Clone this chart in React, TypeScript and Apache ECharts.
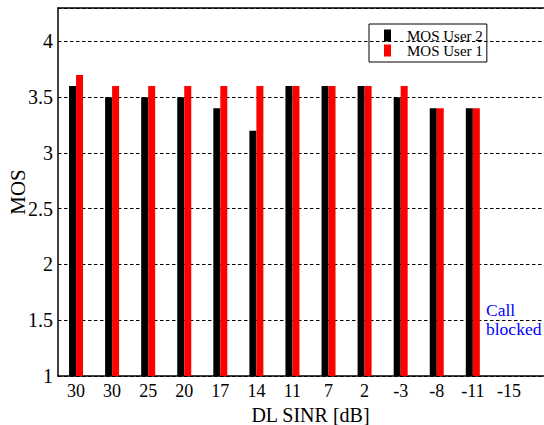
import React, { useEffect, useRef } from "react";
import * as echarts from "echarts";

// DL SINR points (dB) at which both users were measured
const sinrLabels = ["30", "30", "25", "20", "17", "14", "11", "7", "2", "-3", "-8", "-11", "-15"];
// Mean opinion score per SINR point; -15 dB has no score (call blocked)
const mosUser2 = [3.6, 3.5, 3.5, 3.5, 3.4, 3.2, 3.6, 3.6, 3.6, 3.5, 3.4, 3.4, null];
const mosUser1 = [3.7, 3.6, 3.6, 3.6, 3.6, 3.6, 3.6, 3.6, 3.6, 3.6, 3.4, 3.4, null];
const yTicks = [1, 1.5, 2, 2.5, 3, 3.5, 4];

const SERIF = "Liberation Serif";

export default function App() {
  const ref = useRef<HTMLDivElement>(null);

  useEffect(() => {
    if (!ref.current) return;
    const chart = echarts.init(ref.current, undefined, { renderer: "svg" });
    // one spare slot on the right so the plot frame runs past the page edge
    const cats = [...sinrLabels, ""];

    chart.setOption({
      animation: false,
      backgroundColor: "#fff",
      textStyle: { fontFamily: SERIF },
      grid: { left: 58, top: 8, width: 505, height: 368, containLabel: false, outerBoundsMode: "none" },
      legend: {
        orient: "vertical",
        left: 369,
        top: 24,
        padding: [4, 4, 4, 15],
        itemGap: 0,
        itemWidth: 7,
        itemHeight: 12,
        icon: "rect",
        borderColor: "#000",
        borderWidth: 1,
        borderRadius: 0,
        textStyle: { fontFamily: SERIF, fontSize: 15, color: "#000", padding: [0, 0, 0, 11] },
        data: ["MOS User 2", "MOS User 1"],
      },
      xAxis: [
        {
          type: "category",
          position: "bottom",
          data: cats,
          boundaryGap: true,
          name: "DL SINR [dB]",
          nameLocation: "middle",
          nameGap: 26,
          nameTextStyle: { fontFamily: SERIF, fontSize: 20, color: "#000" },
          axisLine: { lineStyle: { color: "#000", width: 1.5 } },
          axisTick: { inside: true, alignWithLabel: true, length: 9, lineStyle: { color: "#555" } },
          axisLabel: { fontFamily: SERIF, fontSize: 18, color: "#000", margin: 6, interval: 0 },
          splitLine: { show: false },
        },
        {
          type: "category",
          position: "top",
          data: cats,
          boundaryGap: true,
          axisLine: { lineStyle: { color: "#000", width: 1.5 } },
          axisTick: { inside: true, alignWithLabel: true, length: 8, lineStyle: { color: "#555" } },
          axisLabel: { show: false },
          splitLine: { show: false },
        },
      ],
      yAxis: [
        {
          type: "value",
          position: "left",
          min: 1,
          max: 4.3,
          interval: 0.5,
          name: "MOS",
          nameLocation: "middle",
          nameGap: 30,
          nameMoveOverlap: false,
          nameTextStyle: { fontFamily: SERIF, fontSize: 21, color: "#000" },
          axisLine: { show: true, lineStyle: { color: "#000", width: 1.5 } },
          axisTick: { inside: true, length: 8, lineStyle: { color: "#000" } },
          axisLabel: {
            fontFamily: SERIF,
            fontSize: 20,
            color: "#000",
            margin: 5,
            showMaxLabel: false,
            formatter: (v: number) => (yTicks.some((t) => Math.abs(t - v) < 1e-6) ? String(v) : ""),
          },
          splitLine: { show: true, lineStyle: { color: "#000", width: 1, type: [3.5, 2.5] } },
        },
        {
          // quarter-step minor ticks on the left frame
          type: "value",
          position: "left",
          offset: 0,
          min: 1,
          max: 4.3,
          interval: 0.25,
          axisLine: { show: false },
          axisTick: { inside: true, length: 5, lineStyle: { color: "#000" } },
          axisLabel: { show: false },
          splitLine: { show: false },
        },
      ],
      series: [
        {
          name: "MOS User 2",
          type: "bar",
          xAxisIndex: 0,
          yAxisIndex: 0,
          data: mosUser2,
          barWidth: 7,
          barGap: "0%",
          itemStyle: { color: "#000" },
        },
        {
          name: "MOS User 1",
          type: "bar",
          xAxisIndex: 0,
          yAxisIndex: 0,
          data: mosUser1,
          barWidth: 7,
          barGap: "0%",
          itemStyle: { color: "#ff0000" },
        },
      ],
      graphic: [
        {
          type: "text",
          left: 486,
          top: 300,
          style: {
            text: "Call\nblocked",
            fontFamily: SERIF,
            fontSize: 17.5,
            lineHeight: 19.5,
            fill: "#0000ff",
            align: "left",
          },
        },
      ],
    });

    return () => chart.dispose();
  }, []);

  return (
    <div style={{ position: "absolute", left: 0, top: 0, width: 544, height: 425, overflow: "hidden", background: "#fff" }}>
      <div ref={ref} style={{ width: 600, height: 425 }} />
    </div>
  );
}
